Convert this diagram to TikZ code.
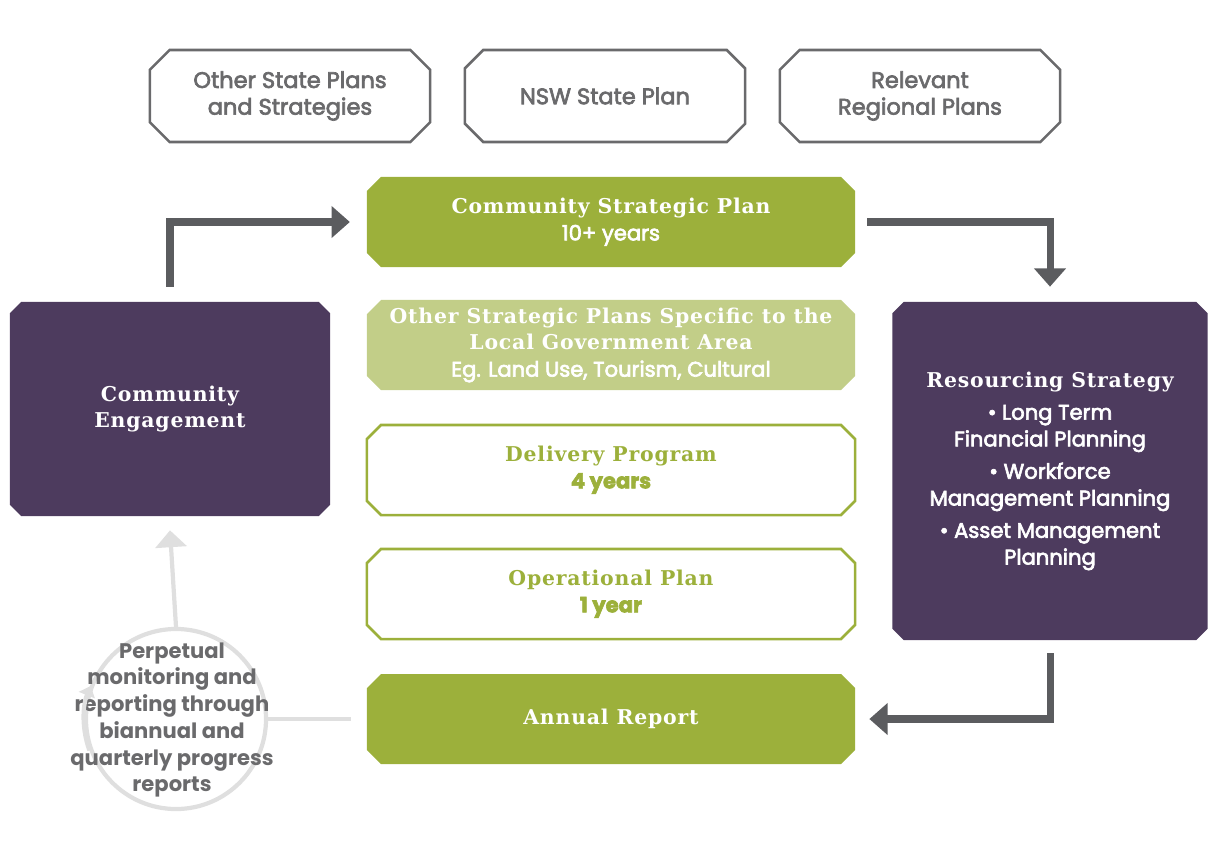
\documentclass[tikz,border=0pt]{standalone}
\usepackage{fontspec}
\setmainfont{Poppins}
\newfontfamily\medium[FakeBold=3]{Poppins}
\newfontfamily\slab[LetterSpace=4]{DejaVu Serif}
\usetikzlibrary{shapes.misc, arrows.meta}

\definecolor{leaf}{HTML}{9CB03B}
\definecolor{paleleaf}{HTML}{C2CE88}
\definecolor{plum}{HTML}{4D3B5E}
\definecolor{arrowgrey}{HTML}{5B5C5F}
\definecolor{boxgrey}{HTML}{6A6A6C}
\definecolor{mist}{HTML}{DFDFDF}

\begin{document}
\begin{tikzpicture}[x=0.025cm, y=-0.025cm]

\tikzset{box/.style = {shape=chamfered rectangle, chamfered rectangle xsep=5pt,
    chamfered rectangle ysep=5pt, align=center, inner sep=0pt,
    font=\medium\fontsize{15}{19}\selectfont}}
\tikzset{source/.style = {box, draw=boxgrey, line width=1.8pt, text=boxgrey,
    chamfered rectangle xsep=7pt, chamfered rectangle ysep=7pt,
    font=\medium\fontsize{16}{19}\selectfont,
    minimum width=7cm, minimum height=2.3cm}}
\tikzset{plan/.style = {box, minimum width=12.2cm, minimum height=2.25cm}}
\tikzset{side/.style = {box, fill=plum, text=white, chamfered rectangle xsep=4pt,
    chamfered rectangle ysep=4pt}}
\tikzset{flow/.style = {draw=arrowgrey, line width=5pt,
    -{Triangle[length=13pt,width=22pt]}}}
\tikzset{faint/.style = {draw=mist, line width=3pt}}
\newcommand{\ttl}[1]{{\slab\bfseries\fontsize{14.5}{19}\selectfont #1}}

\useasboundingbox (0,0) rectangle (1208,842);

%plans feeding in
\node[source] (other) at (290,96) {Other State Plans\\and Strategies};
\node[source] (nsw) at (605,96) {NSW State Plan};
\node[source] (region) at (920,96) {Relevant\\Regional Plans};

%middle column
\node[plan, fill=leaf, text=white] (csp) at (611,222)
    {\ttl{Community Strategic Plan}\\10+ years};
\node[plan, fill=paleleaf, text=white] (osp) at (611,345)
    {\ttl{Other Strategic Plans Specific to the}\\\ttl{Local Government Area}\\Eg. Land Use, Tourism, Cultural};
\node[plan, draw=leaf, line width=1.8pt, text=leaf] (dp) at (611,470)
    {\ttl{Delivery Program}\\\bfseries 4 years};
\node[plan, draw=leaf, line width=1.8pt, text=leaf] (op) at (611,594)
    {\ttl{Operational Plan}\\\bfseries 1 year};
\node[plan, fill=leaf, text=white] (ar) at (611,719) {\ttl{Annual Report}};

%sides
\node[side, minimum width=8cm, minimum height=5.35cm] (ce) at (170,409)
    {\ttl{Community}\\\ttl{Engagement}};
\node[side, minimum width=7.875cm, minimum height=8.45cm] (rs) at (1050,471)
    {\ttl{Resourcing Strategy}\\[4pt] \textbullet\ Long Term\\Financial Planning\\[4pt]
     \textbullet\ Workforce\\Management Planning\\[4pt] \textbullet\ Asset Management\\Planning};

%monitoring loop
\node[circle, faint, minimum size=4.5cm, inner sep=0pt] (ring) at (176,719) {};
\node[align=center, text=boxgrey, font=\bfseries\fontsize{15}{19}\selectfont] (monitor) at (172,720)
    {Perpetual\\monitoring and\\reporting through\\biannual and\\quarterly progress\\reports};

%arrows
\draw[flow] ([yshift=0.375cm]ce.north) |- ([xshift=-0.42cm]csp.west);
\draw[flow] ([xshift=0.3cm]csp.east) -| ([yshift=0.375cm]rs.north);
\draw[flow] ([yshift=-0.325cm]rs.south) |- ([xshift=0.35cm]ar.east);
\draw[faint] ([xshift=-0.4cm]ar.west) -- (ring.east);
\draw[faint, -{Triangle[length=12pt,width=22pt]}] (ring.north) -- ([yshift=-0.35cm]ce.south);
\draw[faint, -{Triangle[length=7pt,width=12pt]}] (ring.200) arc[start angle=200, end angle=158, radius=2.25cm];

\end{tikzpicture}
\end{document}
